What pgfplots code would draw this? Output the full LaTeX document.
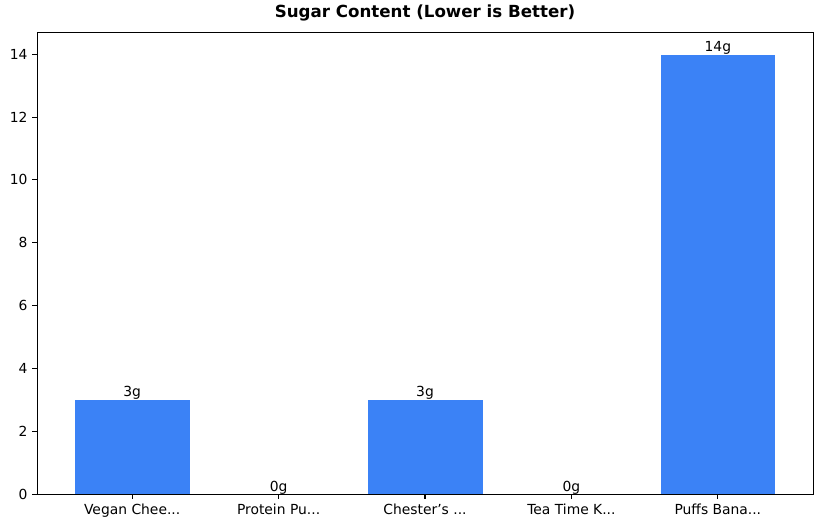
\documentclass[border=0pt]{standalone}
\usepackage{pgfplots}
\pgfplotsset{compat=1.18}
\usepackage{fontspec}
\setmainfont{DejaVu Sans}
\definecolor{barblue}{HTML}{3B82F6}
\newcommand\dd{.{}.{}.}
\begin{document}
\begin{tikzpicture}
\begin{axis}[
  width=582pt, height=346.5pt,
  scale only axis,
  axis on top,
  xmin=-0.65, xmax=4.65,
  ymin=0, ymax=14.7,
  xtick={0,1,2,3,4},
  xticklabels={{Vegan Chee\dd}, {Protein Pu\dd}, {Chester’s \dd}, {Tea Time K\dd}, {Puffs Bana\dd}},
  ytick={0,2,4,6,8,10,12,14},
  tick pos=left,
  xtick align=outside, ytick align=outside,
  xtick style={draw=black, line width=0.8pt},
  ytick style={draw=black, line width=0.6pt},
  major tick length=3.6pt,
  axis line style={black, line width=0.6pt},
  tick label style={font=\fontsize{10.4}{12}\selectfont},
  /pgf/number format/assume math mode=true,
  title={\bfseries Sugar Content (Lower is Better)},
  title style={font=\fontsize{12.5}{15}\selectfont, yshift=-1pt},
  clip=false,
]
\addplot[ybar, bar width=0.79, fill=barblue, draw=white, line width=0.5pt,
  nodes near coords={\pgfmathprintnumber{\pgfplotspointmeta}g},
  point meta=y,
  every node near coord/.append style={font=\fontsize{10.4}{12}\selectfont, yshift=-3.5pt, black}]
  coordinates {(0,3) (1,0) (2,3) (3,0) (4,14)};
\path (rel axis cs:-0.04768,-0.07359) rectangle (rel axis cs:1.0116,1.06926);
\end{axis}
\end{tikzpicture}
\end{document}
